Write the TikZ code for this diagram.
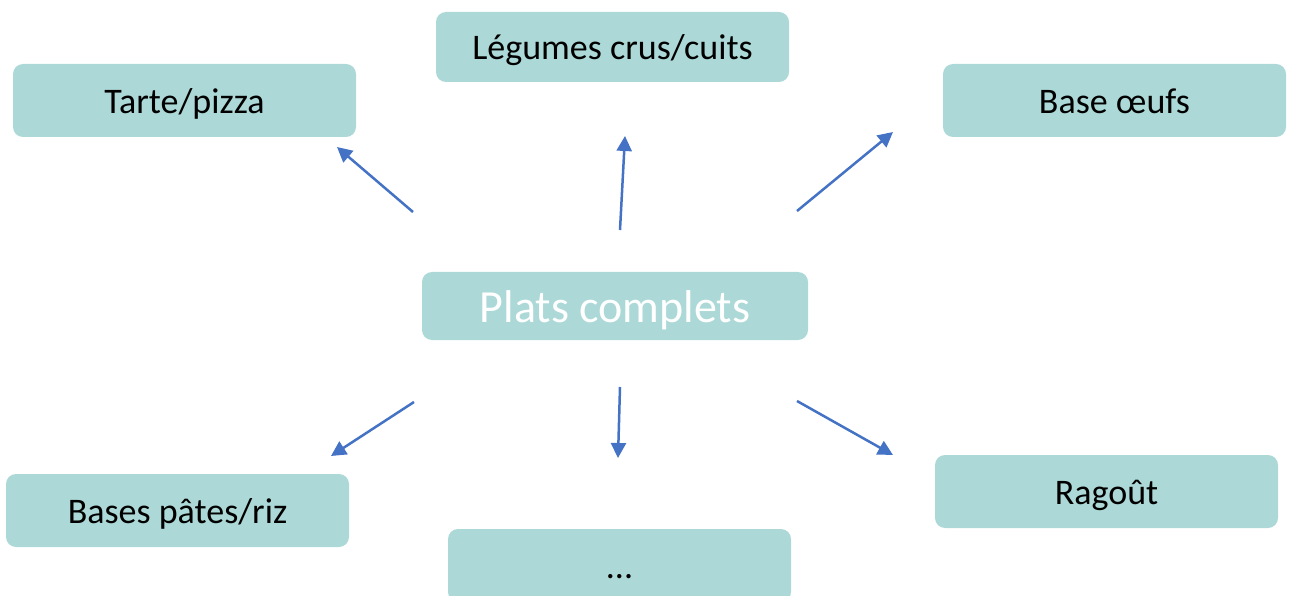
\documentclass[tikz,border=0pt]{standalone}
\usepackage{fontspec}
\setmainfont{Carlito}
\usetikzlibrary{arrows.meta}
\definecolor{boxfill}{HTML}{ACD9D7}
\definecolor{arrowblue}{HTML}{4472C4}
\tikzset{
  catbox/.style={fill=boxfill, draw=none, rounded corners=10pt, minimum width=343pt, minimum height=73pt, inner sep=0pt,
    font=\fontsize{36}{40}\selectfont, text=black, text height=26pt, text depth=0pt},
  mainbox/.style={catbox, minimum width=386pt, minimum height=68pt, font=\fontsize{46}{50}\selectfont, text=white, text height=34pt},
  arr/.style={draw=arrowblue, line width=2.5pt, -{Triangle[length=15pt,width=15pt]}}
}
\begin{document}
\begin{tikzpicture}[x=1pt,y=-1pt]
\useasboundingbox (0,0) rectangle (1291,596);
\begin{scope}
\clip (0,0) rectangle (1291,596);
\node[catbox] (tarte) at (184.5,100.5) {Tarte/pizza};
\node[catbox, minimum width=353pt, minimum height=70pt] (legumes) at (612.5,47) {Légumes crus/cuits};
\node[catbox] (oeufs) at (1114.5,100.5) {Base œufs};
\node[mainbox] (plats) at (615,306) {Plats complets};
\node[catbox] (pates) at (177.5,510.5) {Bases pâtes/riz};
\node[catbox] (etc) at (619.5,565.5) {...};
\node[catbox] (ragout) at (1106.5,491.5) {Ragoût};
\end{scope}
\coordinate (a1s) at (413,212); \coordinate (a1e) at (337,147);
\coordinate (a2s) at (620,230); \coordinate (a2e) at (625,136);
\coordinate (a3s) at (797,211); \coordinate (a3e) at (893,132);
\coordinate (a4s) at (414,402); \coordinate (a4e) at (331,456);
\coordinate (a5s) at (620,387); \coordinate (a5e) at (618,458);
\coordinate (a6s) at (797,401); \coordinate (a6e) at (893,455);
\draw[arr] (a1s) -- (a1e);
\draw[arr] (a2s) -- (a2e);
\draw[arr] (a3s) -- (a3e);
\draw[arr] (a4s) -- (a4e);
\draw[arr] (a5s) -- (a5e);
\draw[arr] (a6s) -- (a6e);
\end{tikzpicture}
\end{document}
